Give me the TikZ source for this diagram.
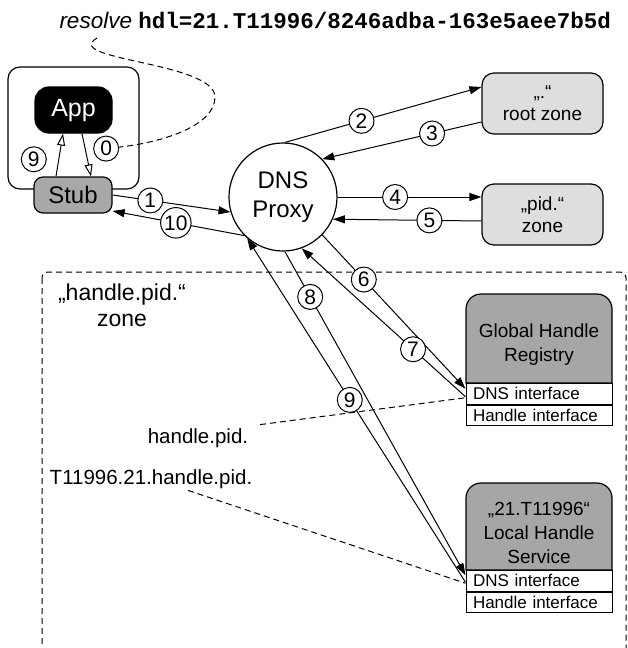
\documentclass[tikz,border=0pt]{standalone}
\usepackage{fontspec}
\setmainfont{Liberation Sans}
\setmonofont{Liberation Mono}
\usetikzlibrary{
  arrows.meta,
  calc,
  positioning,
}
\definecolor{zonegray}{gray}{0.87}
\definecolor{servergray}{gray}{0.65}
\definecolor{stubgray}{gray}{0.66}
\newcommand\pxfont[2]{\fontsize{#1}{#2}\selectfont}
\tikzset{
  >={Triangle[length=12pt,width=8pt]},
  box/.style={draw, line width=1.2pt, rounded corners=12pt, align=center, inner sep=0pt},
  zonebox/.style={box, fill=zonegray, minimum width=121pt, minimum height=61pt, font=\pxfont{19}{22}},
  num/.style={draw, circle, fill=white, inner sep=1pt, minimum size=25pt, font=\pxfont{21}{21}},
  iface/.style={draw, fill=white, minimum height=20.5pt, text width=132pt, inner xsep=7pt,
    inner ysep=0pt, align=left, font=\pxfont{17}{17}},
  server/.style={draw, fill=servergray, line width=1.2pt},
  servertext/.style={align=center, font=\pxfont{19}{24}},
  msg/.style={->},
  call/.style={-{Triangle[open,length=12pt,width=8pt]}},
  note/.style={dash pattern=on 6pt off 4pt},
}

\begin{document}
\begin{tikzpicture}[x=1pt, y=-1pt, line width=1pt]
  \useasboundingbox (0,0) rectangle (627,648);
  \node[anchor=base west, inner sep=0pt, font=\pxfont{22.5}{22.5}] (cmd) at (59,28)
    {\textit{resolve} {\ttfamily\bfseries hdl=21.T11996/8246adba-163e5aee7b5d}};
  \coordinate (cmdtail) at (97,38);

  \draw[note, rounded corners=6pt] (42,272) rectangle (626,660);
  \node[font=\pxfont{23}{26}, align=center] (zonelbl) at (122,305) {„handle.pid.“\\zone};

  \node[box, minimum width=131pt, minimum height=122pt] (host) at (73.5,128) {};
  \node[box, fill=black, text=white, rounded corners=14pt, minimum width=77pt,
    minimum height=46pt, font=\pxfont{25}{25}] (app) at (73.5,110) {App};
  \node[box, fill=stubgray, rounded corners=9pt, minimum width=78pt,
    minimum height=36pt, font=\pxfont{24}{24}] (stub) at (73,195) {Stub};

  \node[draw, circle, line width=1.2pt, minimum size=108pt, inner sep=0pt, align=center,
    font=\pxfont{24}{29}] (dns) at (283,197) {DNS\\Proxy};

  \node[zonebox] (root) at (542.5,103.5) {„.“\\root zone};
  \node[zonebox] (pid) at (542.5,214.5) {„pid.“\\zone};

  \foreach \top/\bot/\nm/\txt in {294/383/ghr/{Global Handle\\Registry},
                                  483/570/lhs/{„21.T11996“\\Local Handle\\Service}}
  {
    \draw[server] (466,\bot) [rounded corners=15pt] -- (466,\top) -- (612,\top)
      [sharp corners] -- (612,\bot) -- cycle;
    \node[servertext] (\nm) at (539,{(\top+\bot)/2+6}) {\txt};
    \node[iface, anchor=north] (\nm-dns) at (539,\bot) {DNS interface};
    \node[iface, below=0pt of \nm-dns] (\nm-hdl) {Handle interface};
  }

  \node[font=\pxfont{20.5}{20.5}] (hpid) at (198,438) {handle.pid.};
  \node[font=\pxfont{20.5}{20.5}] (tpid) at (151,479) {T11996.21.handle.pid.};
  \draw[note] ([xshift=8pt]hpid.north east) -- ([yshift=-4pt]ghr-dns.west);
  \draw[note] ([xshift=37pt,yshift=2pt]tpid.south) -- ([yshift=-2.5pt]lhs-dns.west);

  \draw[call] ([xshift=-17pt]stub.north) -- node[num, pos=.4, left=12pt] {9} ([xshift=-10.5pt]app.south);
  \draw[call] ([xshift=8.5pt]app.south) -- node[num, pos=.35, right=8pt] (zero) {0} ([xshift=18pt]stub.north);
  \draw[note] (cmdtail) .. controls (60,60) and (215,62) .. (215,97)
    .. controls (215,125) and (165,142) .. (zero);

  \draw[msg] (stub.east) -- node[num, pos=.32] {1} (dns.196);
  \draw[msg] (dns.88) -- node[num, pos=.39] {2} ([yshift=16.5pt]root.west);
  \draw[msg] ([yshift=-18.5pt]root.west) -- node[num, pos=.31] {3} (dns.44);
  \draw[msg] (dns.0) -- node[num, pos=.4] {4} ([yshift=17.5pt]pid.west);
  \draw[msg] ([yshift=-6.5pt]pid.west) -- node[num, pos=.35] {5} (dns.-24);
  \draw[msg] (dns.-44) -- node[num, pos=.29] {6} ([yshift=5pt]ghr-dns.west);
  \draw[msg] ([yshift=-3pt]ghr-dns.west) -- node[num, pos=.32] {7} (dns.-70);
  \draw[msg] (dns.-88) -- node[num, pos=.14] {8} ([yshift=5.5pt]lhs-dns.west);
  \draw[msg] ([yshift=-1.5pt]lhs-dns.west) -- node[num, pos=.53] {9} (dns.229);
  \draw[msg] (dns.225) -- node[num, pos=.52] {10} (stub.-22);
\end{tikzpicture}
\end{document}
